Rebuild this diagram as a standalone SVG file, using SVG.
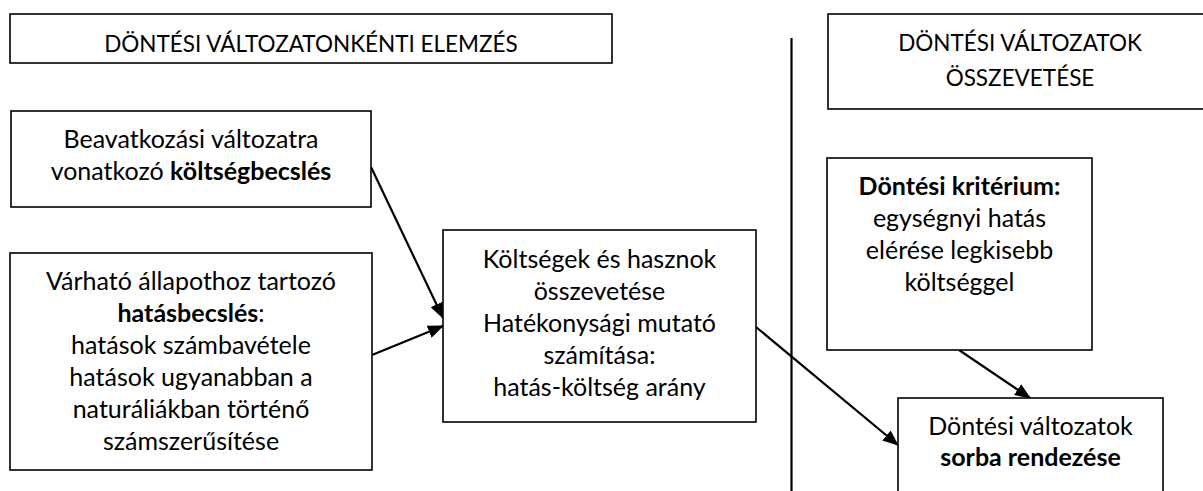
<svg xmlns="http://www.w3.org/2000/svg" width="1203" height="491" viewBox="0 0 1203 491">
<defs>
<marker id="ah" markerUnits="userSpaceOnUse" markerWidth="16" markerHeight="13" viewBox="0 0 16 13" refX="15" refY="6.5" orient="auto">
<path d="M0,0 L16,6.5 L0,13 z" fill="#000"/>
</marker>
</defs>
<style>
.box{fill:#fff;stroke:#000;stroke-width:1.6}
text{font-family:Lato,"Open Sans","Liberation Sans",sans-serif;font-size:25px;fill:#000;text-anchor:middle}
.t{font-size:22.5px}
.b{font-weight:bold}
.conn{stroke:#000;stroke-width:2.2;fill:none}
.arr{marker-end:url(#ah)}
</style>
<rect width="1203" height="491" fill="#fff"/>
<g id="connectors">
<line class="conn" x1="791.5" y1="38" x2="791.5" y2="491"/>
<line class="conn arr" x1="371" y1="167" x2="443" y2="318"/>
<line class="conn arr" x1="372" y1="355" x2="443" y2="326"/>
<line class="conn arr" x1="756" y1="327" x2="898" y2="445"/>
<line class="conn arr" x1="959" y1="350" x2="1030" y2="398"/>
</g>
<g id="title-left">
<rect class="box" x="10" y="14" width="602" height="49"/>
<text class="t" x="311" y="52">DÖNTÉSI VÁLTOZATONKÉNTI ELEMZÉS</text>
</g>
<g id="title-right">
<rect class="box" x="828" y="14" width="384" height="95"/>
<text class="t" x="1020" y="51">DÖNTÉSI VÁLTOZATOK</text>
<text class="t" x="1020" y="86">ÖSSZEVETÉSE</text>
</g>
<g id="cost">
<rect class="box" x="11" y="111" width="360" height="96"/>
<text x="191" y="148">Beavatkozási változatra</text>
<text x="191" y="180">vonatkozó <tspan class="b">költségbecslés</tspan></text>
</g>
<g id="impact">
<rect class="box" x="10" y="253" width="362" height="217"/>
<text x="191" y="290">Várható állapothoz tartozó</text>
<text x="191" y="322"><tspan class="b">hatásbecslés</tspan>:</text>
<text x="191" y="354">hatások számbavétele</text>
<text x="191" y="386">hatások ugyanabban a</text>
<text x="191" y="418">naturáliákban történő</text>
<text x="191" y="450">számszerűsítése</text>
</g>
<g id="compare">
<rect class="box" x="443" y="230" width="313" height="192"/>
<text x="599.5" y="268">Költségek és hasznok</text>
<text x="599.5" y="300">összevetése</text>
<text x="599.5" y="332">Hatékonysági mutató</text>
<text x="599.5" y="364">számítása:</text>
<text x="599.5" y="396">hatás-költség arány</text>
</g>
<g id="criterion">
<rect class="box" x="827" y="158" width="265" height="192"/>
<text x="959.5" y="195" class="b">Döntési kritérium:</text>
<text x="959.5" y="227">egységnyi hatás</text>
<text x="959.5" y="259">elérése legkisebb</text>
<text x="959.5" y="291">költséggel</text>
</g>
<g id="ranking">
<rect class="box" x="898" y="398" width="265" height="110"/>
<text x="1030.5" y="435">Döntési változatok</text>
<text x="1030.5" y="466" class="b">sorba rendezése</text>
</g>
</svg>
